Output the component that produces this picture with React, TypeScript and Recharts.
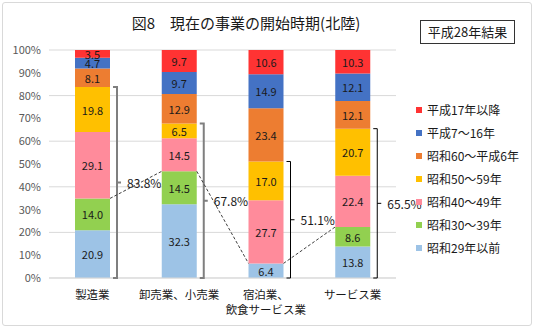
import { BarChart, Bar, XAxis, YAxis, CartesianGrid, Legend, LabelList } from "recharts"

const industries = ["製造業", "卸売業、小売業", "宿泊業、\n飲食サービス業", "サービス業"]

// bottom to top
const early29 = [20.9, 32.3, 6.4, 13.8]
const s30s = [14.0, 14.5, 0, 8.6]
const s40s = [29.1, 14.5, 27.7, 22.4]
const s50s = [19.8, 6.5, 17.0, 20.7]
const s60h6 = [8.1, 12.9, 23.4, 12.1]
const h7h16 = [4.7, 9.7, 14.9, 12.1]
const h17later = [3.5, 9.7, 10.6, 10.3]

const yTicks = [0, 10, 20, 30, 40, 50, 60, 70, 80, 90, 100]

const series = [
  { key: "s0", name: "昭和29年以前", color: "#9DC3E6", values: early29 },
  { key: "s1", name: "昭和30～39年", color: "#92D050", values: s30s },
  { key: "s2", name: "昭和40～49年", color: "#FF8B9B", values: s40s },
  { key: "s3", name: "昭和50～59年", color: "#FFC000", values: s50s },
  { key: "s4", name: "昭和60～平成6年", color: "#ED7D31", values: s60h6 },
  { key: "s5", name: "平成7～16年", color: "#4472C4", values: h7h16 },
  { key: "s6", name: "平成17年以降", color: "#FF3333", values: h17later },
]

const data = industries.map((name, i) => {
  const row: Record<string, string | number> = { name }
  series.forEach((s) => (row[s.key] = s.values[i]))
  return row
})

const FONT = "'Noto Sans CJK JP', sans-serif"

const SegLabel = (props: any) => {
  const { x, y, width, height, value } = props
  const v = Number(value)
  if (!v) return null
  return (
    <text
      x={Number(x) + Number(width) / 2}
      y={Number(y) + Number(height) / 2}
      textAnchor="middle"
      dominantBaseline="central"
      fontSize={11}
      fill="#1a1a1a"
      fontFamily={FONT}
    >
      {v.toFixed(1)}
    </text>
  )
}

// geometry of the bottom segments, filled while the labels render
const geo: { right: number; y39: number }[] = []

const BaseLabel = (props: any) => {
  const { x, y, width, height, index } = props
  const i = Number(index)
  const X = Number(x)
  const W = Number(width)
  const top = Math.min(Number(y), Number(y) + Number(height))
  const base = Math.max(Number(y), Number(y) + Number(height))
  const ppu = (base - top) / early29[i]
  const cum39 = early29[i] + s30s[i]
  const cum59 = cum39 + s40s[i] + s50s[i]
  const y39 = base - cum39 * ppu
  const y59 = base - cum59 * ppu
  const mid = (y59 + base) / 2
  const bx = X + W + 7
  const prev = i > 0 ? geo[i - 1] : null
  geo[i] = { right: X + W, y39 }
  const thick = i < 2
  const stroke = thick ? "#7f7f7f" : "#000"
  const sw = thick ? 2 : 1
  return (
    <g>
      {prev && (
        <line x1={prev.right} y1={prev.y39} x2={X} y2={y39} stroke="#404040" strokeDasharray="3 2" strokeWidth={1} />
      )}
      <path
        d={`M${bx - 4},${y59} H${bx} V${base} H${bx - 4} M${bx},${mid} H${bx + 4}`}
        fill="none"
        stroke={stroke}
        strokeWidth={sw}
      />
      <text x={bx + 10} y={mid} dominantBaseline="central" fontSize={12} fill="#1a1a1a" fontFamily={FONT}>
        {cum59.toFixed(1)}%
      </text>
      <text
        x={X + W / 2}
        y={(top + base) / 2}
        textAnchor="middle"
        dominantBaseline="central"
        fontSize={11}
        fill="#1a1a1a"
        fontFamily={FONT}
      >
        {early29[i].toFixed(1)}
      </text>
    </g>
  )
}

const CategoryTick = (props: any) => {
  const { x, y, payload } = props
  const lines = String(payload.value).split("\n")
  return (
    <g>
      {lines.map((t, k) => (
        <text
          key={k}
          x={x}
          y={y + 8 + k * 15}
          textAnchor="middle"
          dominantBaseline="central"
          fontSize={11.5}
          fill="#1a1a1a"
          fontFamily={FONT}
        >
          {t}
        </text>
      ))}
    </g>
  )
}

const LegendList = (props: any) => {
  const items = [...(props.payload || [])].reverse()
  return (
    <div style={{ fontFamily: FONT, fontSize: 12, color: "#1a1a1a" }}>
      {items.map((it: any) => (
        <div key={it.value} style={{ height: 23, display: "flex", alignItems: "center", whiteSpace: "nowrap" }}>
          <span style={{ width: 6, height: 6, background: it.color, marginRight: 5, display: "inline-block" }} />
          {it.value}
        </div>
      ))}
    </div>
  )
}

export default function App() {
  return (
    <div style={{ position: "relative", width: 535, height: 329, background: "#fff", fontFamily: FONT }}>
      <style>{"body{margin:0}"}</style>
      <div
        style={{
          position: "absolute",
          left: 2,
          top: 2,
          width: 528,
          height: 322,
          border: "1px solid #d9d9d9",
          borderRadius: 3,
        }}
      />
      <div
        style={{
          position: "absolute",
          left: 0,
          width: 492,
          top: 12,
          textAlign: "center",
          fontSize: 15,
          color: "#1a1a1a",
          whiteSpace: "nowrap",
        }}
      >
        図8　現在の事業の開始時期(北陸)
      </div>
      <div
        style={{
          position: "absolute",
          left: 420,
          top: 20,
          width: 93,
          height: 22,
          border: "1px solid #333",
          fontSize: 13,
          lineHeight: "22px",
          textAlign: "center",
          color: "#1a1a1a",
        }}
      >
        平成28年結果
      </div>
      <div style={{ position: "absolute", left: 0, top: 0 }}>
        <BarChart width={535} height={329} data={data} margin={{ top: 50, right: 21, left: 9, bottom: 11 }}>
          <CartesianGrid vertical={false} stroke="#d9d9d9" />
          <XAxis
            dataKey="name"
            height={40}
            tick={<CategoryTick />}
            tickLine={false}
            axisLine={{ stroke: "#d9d9d9" }}
            interval={0}
          />
          <YAxis
            width={40}
            domain={[0, 100]}
            ticks={yTicks}
            allowDataOverflow
            tickFormatter={(v: number) => `${v}%`}
            tick={{ fontSize: 11, fill: "#595959", fontFamily: FONT }}
            tickLine={false}
            axisLine={false}
          />
          <Legend
            layout="vertical"
            align="right"
            verticalAlign="top"
            itemSorter="dataKey"
            content={<LegendList />}
            wrapperStyle={{ position: "absolute", left: 416, top: 98, width: 118, right: "auto" }}
          />
          {series.map((s, idx) => (
            <Bar key={s.key} dataKey={s.key} name={s.name} stackId="a" fill={s.color} barSize={35} isAnimationActive={false}>
              <LabelList dataKey={s.key} content={idx === 0 ? <BaseLabel /> : <SegLabel />} />
            </Bar>
          ))}
        </BarChart>
      </div>
    </div>
  )
}
